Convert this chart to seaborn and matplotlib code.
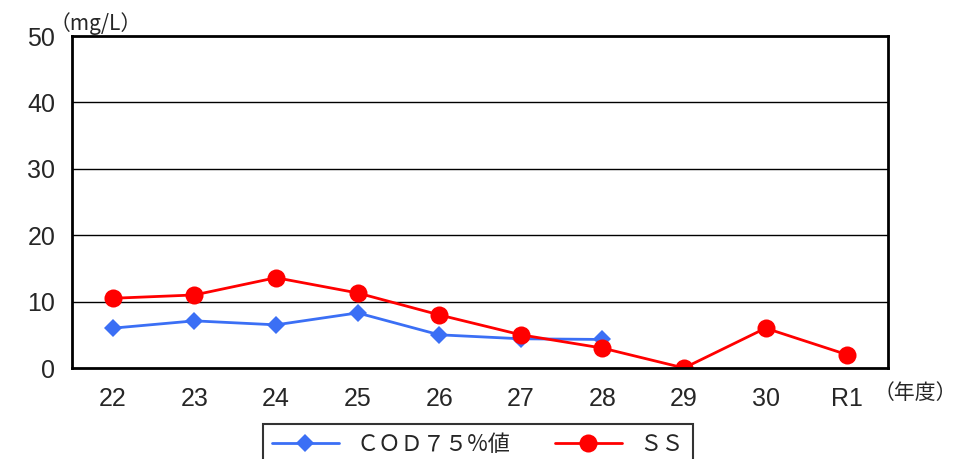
import matplotlib
matplotlib.use("Agg")
import matplotlib.pyplot as plt
import seaborn as sns
import pandas as pd
import numpy as np

years = ["22", "23", "24", "25", "26", "27", "28", "29", "30", "R1"]
cod = [6.0, 7.1, 6.5, 8.3, 5.0, 4.4, 4.3, np.nan, np.nan, np.nan]
ss = [10.5, 11.0, 13.6, 11.3, 8.0, 5.0, 3.0, 0.0, 6.0, 2.0]
cod_label = "ＣＯＤ７５%値"
ss_label = "ＳＳ"
yticks = [0, 10, 20, 30, 40, 50]

sns.set_style("white")
plt.rcParams['font.family'] = ['Liberation Sans', 'Noto Sans CJK JP', 'DejaVu Sans']

fig = plt.figure(figsize=(9.59, 4.59), dpi=100)
ax = fig.add_axes([72/959, 1-368/459, (888-72)/959, (368-36)/459])

x = np.arange(len(years))
df = pd.DataFrame({"x": x, "cod": cod, "ss": ss})
sns.lineplot(data=df, x="x", y="cod", ax=ax, color="#3b6ff5", marker="D",
             markersize=9, markeredgewidth=0, linewidth=2, label=cod_label)
sns.lineplot(data=df, x="x", y="ss", ax=ax, color="#ff0000", marker="o",
             markersize=13, markeredgewidth=0, linewidth=2, label=ss_label)

ax.set_xlim(-0.5, len(years) - 0.5)
ax.set_ylim(0, 50)
ax.set_yticks(yticks)
ax.set_yticklabels([str(v) for v in yticks], fontsize=18)
ax.set_xticks(x)
ax.set_xticklabels(years, fontsize=18)
ax.tick_params(axis='x', which='major', length=0, pad=14)
ax.tick_params(axis='y', which='major', length=0, pad=12)
ax.set_xticks(np.arange(0.5, len(years) - 1, 1), minor=True)
ax.tick_params(axis='x', which='minor', direction='in', length=7, width=1.2, color='black')
ax.set_xlabel("")
ax.set_ylabel("")
for yv in [10, 20, 30, 40]:
    ax.axhline(yv, color='black', linewidth=1, zorder=0)
for s in ax.spines.values():
    s.set_color('black')
    s.set_linewidth(2)

fig.text(50/959, 1-24/459, "（mg/L）", fontsize=15, ha='left', va='center',
         family=['Noto Sans CJK JP', 'DejaVu Sans'])
fig.text(874/959, 1-393/459, "（年度）", fontsize=15, ha='left', va='center',
         family=['Noto Sans CJK JP', 'DejaVu Sans'])

leg = ax.legend(loc='upper center', bbox_to_anchor=(478/959, 1-424/459),
                bbox_transform=fig.transFigure, ncol=2, frameon=True,
                fancybox=False, edgecolor='black', borderaxespad=0,
                prop={'family': ['Noto Sans CJK JP', 'DejaVu Sans'], 'size': 16},
                borderpad=0.4, handlelength=3, columnspacing=2.0)
leg.get_frame().set_linewidth(1.5)

fig.savefig("out.png", dpi=100)
